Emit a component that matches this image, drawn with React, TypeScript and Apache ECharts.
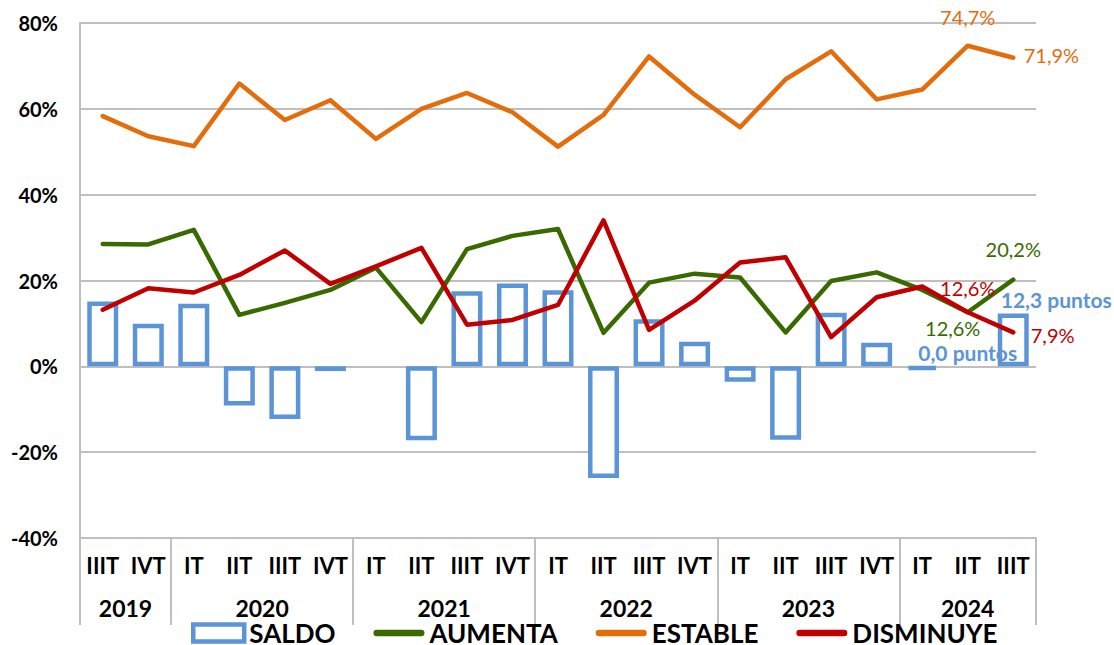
import React, { useEffect, useRef } from "react";
import * as echarts from "echarts";

const quarters = ["IIIT","IVT","IT","IIT","IIIT","IVT","IT","IIT","IIIT","IVT","IT","IIT","IIIT","IVT","IT","IIT","IIIT","IVT","IT","IIT","IIIT"];
const years = ["2019","2020","2021","2022","2023","2024"];
const quartersPerYear = [2, 4, 4, 4, 4, 3];

const saldo = [15.1, 9.9, 14.6, -9.1, -12.3, -1.1, 0, -17.2, 17.5, 19.3, 17.7, -26.0, 11.0, 5.7, -3.6, -17.1, 12.5, 5.5, -0.8, 0, 12.3];
const aumenta = [28.5, 28.4, 31.8, 12.0, 14.8, 17.8, 23.0, 10.3, 27.3, 30.4, 32.0, 7.8, 19.5, 21.6, 20.7, 7.9, 19.9, 21.9, 17.8, 12.6, 20.2];
const estable = [58.3, 53.6, 51.3, 65.9, 57.4, 62.0, 53.0, 60.0, 63.7, 59.2, 51.2, 58.6, 72.2, 63.3, 55.7, 66.9, 73.4, 62.2, 64.5, 74.7, 71.9];
const disminuye = [13.2, 18.2, 17.2, 21.3, 27.0, 19.2, 23.3, 27.6, 9.7, 10.8, 14.3, 34.0, 8.5, 15.3, 24.2, 25.4, 6.8, 16.1, 18.6, 12.6, 7.9];

const yTicks = { min: -40, max: 80, interval: 20 };

const BLUE = "#5B95D7";
const GREEN = "#386A00";
const ORANGE = "#E46C0A";
const RED = "#C00000";
const GRID = "#BFBFBF";
const FONT = "Lato";

const LINE_ICON = "path://M3.5,0 H51.5 A3.5,3.5 0 0 1 51.5,7 H3.5 A3.5,3.5 0 0 1 3.5,0 Z";

const fmt = (v: number) => v.toFixed(1).replace(".", ",");

// year boundaries and centres in category units
const bounds: number[] = [0];
quartersPerYear.forEach((n) => bounds.push(bounds[bounds.length - 1] + n));
const centres = years.map((_, i) => (bounds[i] + bounds[i + 1]) / 2);

type Lbl = { position: string; distance: number; offset?: [number, number]; bold?: boolean; suffix: string; size?: number };

const mkLabel = (l: Lbl, color: string) => ({
  show: true,
  position: l.position,
  distance: l.distance,
  offset: l.offset || [0, 0],
  color,
  fontFamily: FONT,
  fontSize: l.size || 20,
  fontWeight: l.bold ? "bold" : "normal",
  formatter: (p: any) => fmt(Number(p.value)) + l.suffix,
});

const markLabels = (vals: number[], color: string, labels: Record<number, Lbl>) => ({
  silent: true,
  symbol: "circle",
  symbolSize: 1,
  itemStyle: { color },
  data: Object.keys(labels).map((k) => {
    const i = Number(k);
    return { coord: [i, vals[i]], value: vals[i], label: mkLabel(labels[i], color) };
  }),
});

export default function App() {
  const ref = useRef<HTMLDivElement>(null);
  useEffect(() => {
    if (!ref.current) return;
    const chart = echarts.init(ref.current, undefined, { renderer: "svg" });
    const saldoLabels: Record<number, Lbl> = {
      19: { position: "top", distance: 3, bold: true, suffix: " puntos", size: 21 },
      20: { position: "top", distance: 4, offset: [43, 0], bold: true, suffix: " puntos", size: 21 },
    };
    chart.setOption({
      animation: false,
      backgroundColor: "#fff",
      grid: { left: 80, right: 78, top: 23, bottom: 107, containLabel: false },
      legend: {
        left: 186,
        top: 615,
        padding: 5,
        itemWidth: 51,
        itemHeight: 17,
        itemGap: 38,
        textStyle: { fontFamily: FONT, fontWeight: "bold", fontSize: 26, lineHeight: 22, color: "#000" },
        itemStyle: { borderWidth: 0 },
        data: [
          { name: "SALDO", icon: "rect", itemStyle: { color: "#fff", borderColor: BLUE, borderWidth: 4.5 } },
          { name: "AUMENTA", icon: LINE_ICON, itemStyle: { color: GREEN, borderWidth: 0 } },
          { name: "ESTABLE", icon: LINE_ICON, itemStyle: { color: ORANGE, borderWidth: 0 } },
          { name: "DISMINUYE", icon: LINE_ICON, itemStyle: { color: RED, borderWidth: 0 } },
        ],
      },
      xAxis: [
        {
          type: "category",
          data: quarters,
          position: "bottom",
          axisLine: { show: true, onZero: false, lineStyle: { color: GRID, width: 2 } },
          axisTick: { show: false },
          splitLine: { show: false },
          axisLabel: { interval: 0, margin: 16, fontFamily: FONT, fontWeight: "bold", fontSize: 22, color: "#000" },
        },
        {
          type: "value",
          min: 0,
          max: quarters.length,
          position: "bottom",
          axisLine: { show: false, onZero: false },
          splitLine: { show: false },
          axisTick: { show: true, customValues: bounds, length: 87, lineStyle: { color: GRID, width: 2 } },
          axisLabel: {
            customValues: centres,
            margin: 58,
            fontFamily: FONT,
            fontWeight: "bold",
            fontSize: 23,
            color: "#000",
            formatter: (v: number) => {
              let best = 0;
              centres.forEach((c, i) => {
                if (Math.abs(c - v) < Math.abs(centres[best] - v)) best = i;
              });
              return years[best];
            },
          },
        },
      ],
      yAxis: {
        type: "value",
        min: yTicks.min,
        max: yTicks.max,
        interval: yTicks.interval,
        axisLine: { show: true, onZero: false, lineStyle: { color: GRID, width: 2 } },
        axisTick: { show: false },
        splitLine: { show: true, lineStyle: { color: GRID, width: 2 } },
        axisLabel: { formatter: "{value}%", margin: 22, fontFamily: FONT, fontWeight: "bold", fontSize: 20, color: "#000" },
      },
      series: [
        {
          name: "SALDO",
          type: "bar",
          xAxisIndex: 0,
          barWidth: 31,
          itemStyle: { color: "#fff", borderColor: BLUE, borderWidth: 4.5 },
          data: saldo.map((v, i) => ({
            value: v,
            itemStyle: v === 0 ? { borderWidth: 0 } : undefined,
            label: saldoLabels[i] ? mkLabel(saldoLabels[i], BLUE) : undefined,
          })),
        },
        {
          name: "AUMENTA",
          type: "line",
          xAxisIndex: 0,
          symbol: "none",
          lineStyle: { color: GREEN, width: 4.5, cap: "round", join: "round" },
          itemStyle: { color: GREEN },
          data: aumenta,
          markPoint: markLabels(aumenta, GREEN, {
            19: { position: "bottom", distance: 5, offset: [-15, 0], suffix: "%" },
            20: { position: "top", distance: 20, suffix: "%" },
          }),
        },
        {
          name: "ESTABLE",
          type: "line",
          xAxisIndex: 0,
          symbol: "none",
          lineStyle: { color: ORANGE, width: 4.5, cap: "round", join: "round" },
          itemStyle: { color: ORANGE },
          data: estable,
          markPoint: markLabels(estable, ORANGE, {
            19: { position: "top", distance: 18, suffix: "%" },
            20: { position: "right", distance: 10, offset: [0, -3], suffix: "%" },
          }),
        },
        {
          name: "DISMINUYE",
          type: "line",
          xAxisIndex: 0,
          symbol: "none",
          lineStyle: { color: RED, width: 4.5, cap: "round", join: "round" },
          itemStyle: { color: RED },
          data: disminuye,
          markPoint: markLabels(disminuye, RED, {
            19: { position: "top", distance: 14, suffix: "%" },
            20: { position: "right", distance: 17, offset: [0, 3], suffix: "%" },
          }),
        },
      ],
    });
    return () => chart.dispose();
  }, []);
  return <div ref={ref} style={{ position: "fixed", left: 0, top: 0, width: 1114, height: 645 }} />;
}
